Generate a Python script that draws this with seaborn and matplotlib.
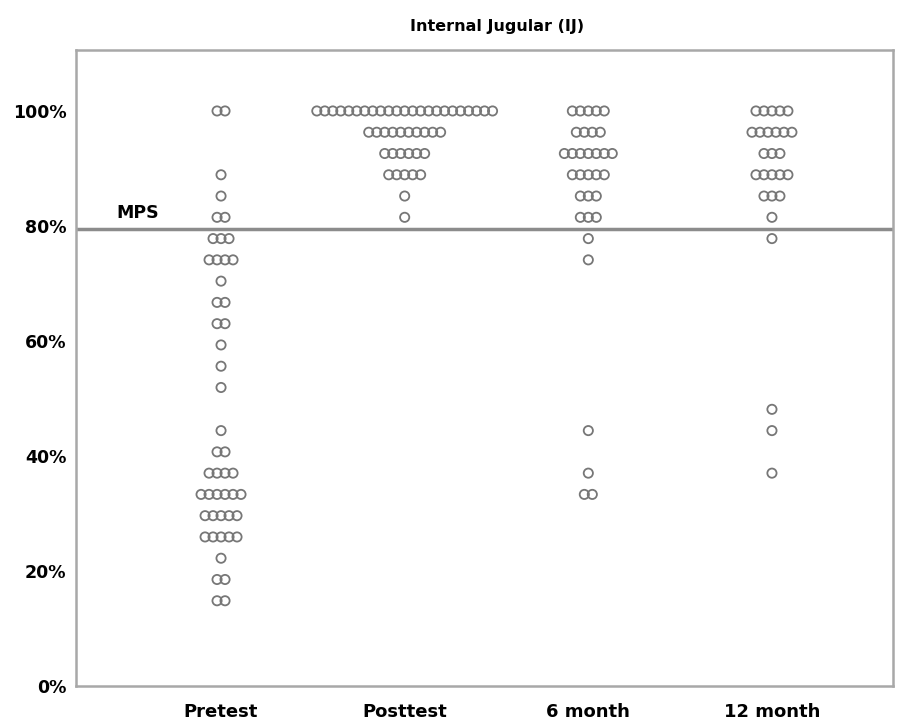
import numpy as np
import pandas as pd
import matplotlib
matplotlib.use("Agg")
import matplotlib.pyplot as plt
from matplotlib.ticker import PercentFormatter
import seaborn as sns

# Score levels (percent correct) and number of participants at each level
groups = ["Pretest", "Posttest", "6 month", "12 month"]

pre_scores = [100, 88.9, 85.2, 81.5, 77.8, 74.1, 70.4, 66.7, 63.0, 59.3, 55.6,
              51.9, 44.4, 40.7, 37.0, 33.3, 29.6, 25.9, 22.2, 18.5, 14.8]
pre_counts = [2, 1, 1, 2, 3, 4, 1, 2, 2, 1, 1, 1, 1, 2, 4, 6, 5, 5, 1, 2, 2]

post_scores = [100, 96.3, 92.6, 88.9, 85.2, 81.5]
post_counts = [23, 10, 6, 5, 1, 1]

m6_scores = [100, 96.3, 92.6, 88.9, 85.2, 81.5, 77.8, 74.1, 44.4, 37.0, 33.3]
m6_counts = [5, 4, 7, 5, 3, 3, 1, 1, 1, 1, 2]

m12_scores = [100, 96.3, 92.6, 88.9, 85.2, 81.5, 77.8, 48.1, 44.4, 37.0]
m12_counts = [5, 6, 3, 5, 3, 1, 1, 1, 1, 1]

mps = 79.5

# build long table, spreading tied points sideways like a dot plot
pitch = 0.0435
rows = []
all_scores = [pre_scores, post_scores, m6_scores, m12_scores]
all_counts = [pre_counts, post_counts, m6_counts, m12_counts]
for gi, (sc, ct) in enumerate(zip(all_scores, all_counts)):
    for s, n in zip(sc, ct):
        for k in range(n):
            rows.append({"group": groups[gi], "score": s,
                         "x": gi + (k - (n - 1) / 2) * pitch})
df = pd.DataFrame(rows)

sns.set_style("white")
plt.rcParams["font.family"] = ["DejaVu Sans"]
plt.rcParams["text.color"] = "black"
plt.rcParams["xtick.color"] = "black"
plt.rcParams["ytick.color"] = "black"

fig = plt.figure(figsize=(8.99, 7.25), dpi=100)
ax = fig.add_axes([0.0845, 0.054, 0.909, 0.877])

sns.scatterplot(data=df, x="x", y="score", ax=ax, marker="o", s=44,
                facecolors="none", edgecolor="#777777", linewidth=1.3,
                legend=False)

ax.axhline(mps, color="#8c8c8c", linewidth=2.5, zorder=0)
ax.text(-0.57, mps + 1.2, "MPS", fontsize=12.5, fontweight="bold",
        ha="left", va="bottom")

ax.set_xlim(-0.79, 3.66)
ax.set_ylim(0, 110.6)
ax.set_xticks(range(len(groups)))
ax.set_xticklabels(groups, fontsize=13, fontweight="bold")
ax.set_yticks([0, 20, 40, 60, 80, 100])
ax.yaxis.set_major_formatter(PercentFormatter(decimals=0))
for lab in ax.get_yticklabels():
    lab.set_fontweight("bold")
    lab.set_fontsize(12.5)
ax.tick_params(axis="both", length=4, width=1, color="#888888", pad=3)
ax.tick_params(axis="x", pad=8)
ax.set_xlabel("")
ax.set_ylabel("")
for sp in ax.spines.values():
    sp.set_color("#a8a8a8")
    sp.set_linewidth(1.8)

ax.set_title("Internal Jugular (IJ)", fontsize=11.5, fontweight="bold", pad=14,
             x=0.515)

fig.savefig("out.png", dpi=100)
